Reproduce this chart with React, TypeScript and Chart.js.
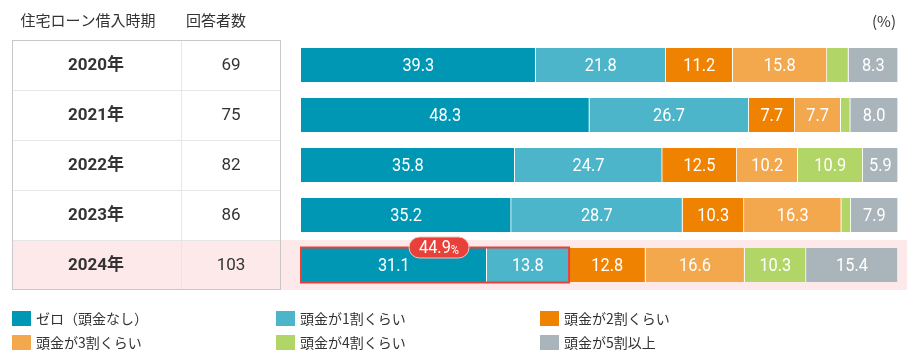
import React, { useEffect, useRef } from "react";
import { Chart, registerables } from "chart.js";

Chart.register(...registerables);

const years = ["2020年", "2021年", "2022年", "2023年", "2024年"];
const respondents = [69, 75, 82, 86, 103];
const seriesNames = [
  "ゼロ（頭金なし）",
  "頭金が1割くらい",
  "頭金が2割くらい",
  "頭金が3割くらい",
  "頭金が4割くらい",
  "頭金が5割以上",
];
const zero = [39.3, 48.3, 35.8, 35.2, 31.1];
const tenPct = [21.8, 26.7, 24.7, 28.7, 13.8];
const twentyPct = [11.2, 7.7, 12.5, 10.3, 12.8];
const thirtyPct = [15.8, 7.7, 10.2, 16.3, 16.6];
const fortyPct = [3.6, 1.6, 10.9, 1.6, 10.3];
const fiftyPct = [8.3, 8.0, 5.9, 7.9, 15.4];
const colors = ["#0097b4", "#4db5ca", "#ef8200", "#f3a84e", "#b1d566", "#a9b4bb"];

const CJK = '"Noto Sans CJK JP", "Noto Sans", sans-serif';
const NUM = 'Roboto, "Noto Sans CJK JP", sans-serif';
const SQ = 0.86;

const tablePlugin = {
  id: "tablePlugin",
  beforeDatasetsDraw(chart: any) {
    const ctx = chart.ctx;
    const y = chart.scales.y;
    const half = 25;
    const n = years.length;
    const top = y.getPixelForValue(0) - half;
    const bottom = y.getPixelForValue(n - 1) + half;
    const left = 12;
    const mid = 181;
    const right = 281;
    ctx.save();
    const hy = y.getPixelForValue(n - 1);
    ctx.fillStyle = "#fde9e9";
    ctx.fillRect(left, hy - half, chart.width - left, half * 2);
    ctx.fillStyle = "#333";
    ctx.font = `15px ${CJK}`;
    ctx.textAlign = "center";
    ctx.textBaseline = "middle";
    ctx.fillText("住宅ローン借入時期", 88, 20);
    ctx.fillText("回答者数", 216, 20);
    ctx.font = `15px ${CJK}`;
    ctx.fillText("(%)", 884, 21);
    ctx.strokeStyle = "#e6e6e6";
    ctx.lineWidth = 1;
    for (let i = 1; i < n; i++) {
      const ly = Math.round(y.getPixelForValue(i) - half) + 0.5;
      ctx.beginPath();
      ctx.moveTo(left, ly);
      ctx.lineTo(right, ly);
      ctx.stroke();
    }
    ctx.beginPath();
    ctx.moveTo(mid + 0.5, top);
    ctx.lineTo(mid + 0.5, bottom);
    ctx.stroke();
    ctx.strokeStyle = "#c8c8c8";
    ctx.strokeRect(left + 0.5, Math.round(top) + 0.5, right - left - 1, bottom - top - 1);
    for (let i = 0; i < n; i++) {
      const cy = y.getPixelForValue(i);
      ctx.fillStyle = "#333";
      ctx.font = `bold 17px ${NUM}`;
      ctx.fillText(years[i], 96, cy + 1);
      ctx.font = `17px ${NUM}`;
      ctx.fillText(String(respondents[i]), 231, cy + 1);
    }
    const cols = [12, 276, 540];
    const rows = [318, 342];
    seriesNames.forEach((name, i) => {
      const cx = cols[i % 3];
      const ry = rows[Math.floor(i / 3)];
      ctx.fillStyle = colors[i];
      ctx.fillRect(cx, ry - 7, 19, 15);
      ctx.fillStyle = "#333";
      ctx.font = `14px ${CJK}`;
      ctx.textAlign = "left";
      ctx.fillText(name, cx + 24, ry + 1);
    });
    ctx.restore();
  },
  afterDatasetsDraw(chart: any) {
    const ctx = chart.ctx;
    const x = chart.scales.x;
    const y = chart.scales.y;
    ctx.save();
    ctx.textBaseline = "middle";
    ctx.textAlign = "center";
    chart.data.datasets.forEach((ds: any, di: number) => {
      const meta = chart.getDatasetMeta(di);
      meta.data.forEach((bar: any, i: number) => {
        const v = ds.data[i];
        if (v < 5) return;
        const cx = (bar.x + bar.base) / 2;
        ctx.save();
        ctx.translate(cx, bar.y + 1);
        ctx.scale(SQ, 1);
        ctx.fillStyle = "#fff";
        ctx.font = `19px ${NUM}`;
        ctx.fillText(v.toFixed(1), 0, 0);
        ctx.restore();
      });
    });
    const hi = years.length - 1;
    const total = zero[hi] + tenPct[hi];
    const x0 = x.getPixelForValue(0);
    const x1 = x.getPixelForValue(total);
    const cy = y.getPixelForValue(hi);
    const h = 35;
    ctx.strokeStyle = "#e8413a";
    ctx.lineWidth = 2;
    ctx.strokeRect(x0, cy - h / 2, x1 - x0, h);
    const bx = (x0 + x1) / 2 + 4;
    const by = cy - h / 2;
    const bw = 60;
    const bh = 21;
    ctx.beginPath();
    ctx.roundRect(bx - bw / 2, by - bh / 2, bw, bh, bh / 2);
    ctx.fillStyle = "#e8413a";
    ctx.fill();
    ctx.strokeStyle = "#f7c0bb";
    ctx.lineWidth = 1;
    ctx.stroke();
    const numText = total.toFixed(1);
    ctx.font = `19px ${NUM}`;
    const nw = ctx.measureText(numText).width * SQ;
    ctx.font = `13px ${NUM}`;
    const pw = ctx.measureText("%").width * SQ;
    const startX = bx - (nw + pw) / 2;
    ctx.fillStyle = "#fff";
    ctx.save();
    ctx.translate(startX + nw / 2, by + 1);
    ctx.scale(SQ, 1);
    ctx.font = `19px ${NUM}`;
    ctx.fillText(numText, 0, 0);
    ctx.restore();
    ctx.save();
    ctx.translate(startX + nw + pw / 2, by + 3);
    ctx.scale(SQ, 1);
    ctx.font = `13px ${NUM}`;
    ctx.fillText("%", 0, 0);
    ctx.restore();
    ctx.restore();
  },
};

export default function App() {
  const ref = useRef<HTMLCanvasElement | null>(null);
  useEffect(() => {
    document.body.style.margin = "0";
    const seriesData = [zero, tenPct, twentyPct, thirtyPct, fortyPct, fiftyPct];
    const chart = new Chart(ref.current as HTMLCanvasElement, {
      type: "bar",
      data: {
        labels: years,
        datasets: seriesData.map((d, i) => ({
          label: seriesNames[i],
          data: d,
          backgroundColor: colors[i],
          borderColor: "#ffffff",
          borderWidth: { left: 0, right: 1, top: 0, bottom: 0 },
          borderSkipped: false,
          barThickness: 34,
        })),
      },
      options: {
        indexAxis: "y",
        responsive: false,
        animation: false,
        devicePixelRatio: 1,
        layout: { padding: { left: 301, right: 9, top: 40, bottom: 68 } },
        scales: {
          x: { stacked: true, min: 0, max: 100, display: false },
          y: { stacked: true, display: false },
        },
        plugins: {
          legend: { display: false },
          tooltip: { enabled: false },
        },
      },
      plugins: [tablePlugin],
    } as any);
    return () => chart.destroy();
  }, []);
  return (
    <div style={{ width: 907, height: 358, background: "#fff" }}>
      <canvas ref={ref} width={907} height={358} style={{ display: "block" }} />
    </div>
  );
}
